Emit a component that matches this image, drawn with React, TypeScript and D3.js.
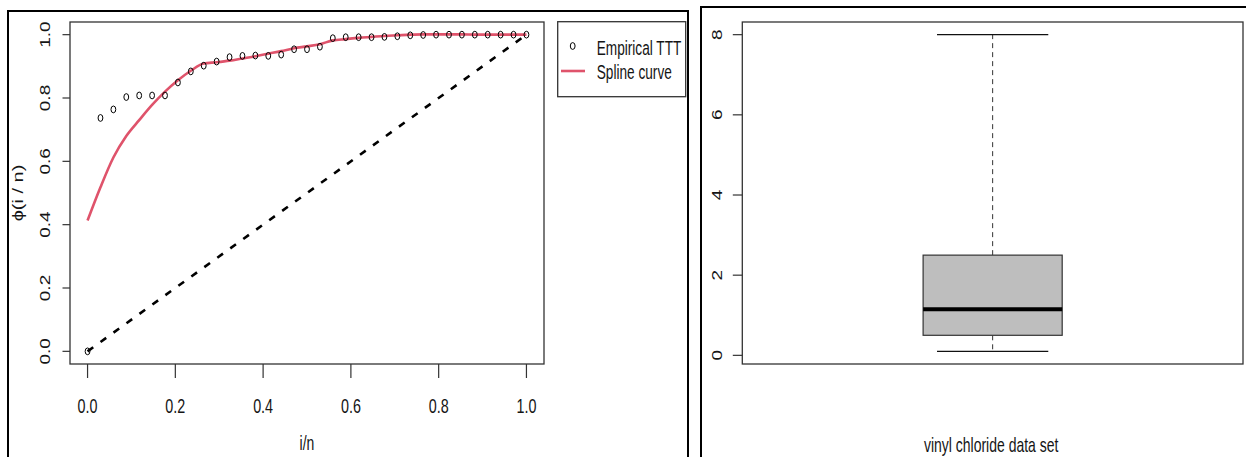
import React from "react";
import * as d3 from "d3";

// ---------- data ----------
const n = 34;
const xTicks = [0, 0.2, 0.4, 0.6, 0.8, 1.0];
const yTicks = [0, 0.2, 0.4, 0.6, 0.8, 1.0];
const empiricalTTT = [
  0, 0.737, 0.764, 0.803, 0.808, 0.808, 0.808, 0.849, 0.884, 0.902, 0.915,
  0.929, 0.933, 0.934, 0.933, 0.937, 0.954, 0.954, 0.962, 0.989, 0.992, 0.992,
  0.992, 0.993, 0.995, 0.998, 0.999, 1, 1, 1, 1, 1, 1, 1, 1,
];
const splineCurve = [
  0.413, 0.518, 0.612, 0.68, 0.73, 0.778, 0.82, 0.856, 0.886, 0.909, 0.913,
  0.918, 0.925, 0.932, 0.94, 0.948, 0.957, 0.963, 0.97, 0.982, 0.986, 0.99,
  0.993, 0.996, 0.998, 1.0, 1.001, 1.001, 1.001, 1.001, 1.0, 1.0, 1.0, 1.0, 1.0,
];
const diagonal = [0, 1];
const legendLabels = ["Empirical TTT", "Spline curve"];
const xLabel = "i/n";
const yLabel = "\u03d5(i / n)";

const boxTicks = [0, 2, 4, 6, 8];
const boxStatNames = ["min", "q1", "median", "q3", "max"];
const boxStatValues = [0.1, 0.5, 1.15, 2.5, 8.0];
const boxTitle = "vinyl chloride data set";

// ---------- layout ----------
const W = 1246;
const H = 457;
const L = { left: 70, right: 544, top: 22, bottom: 364 };
const R = { left: 742.3, right: 1243, top: 22, bottom: 364 };
const SQ = 0.7; // horizontal squash of text
const RED = "#DF536B";
const FONT = "'Liberation Sans', Arial, sans-serif";

function SText({ x, y, children, size = 20, anchor = "middle", rotate = 0, sx = SQ, baseline = "auto" }: any) {
  const tr = rotate
    ? `translate(${x},${y}) scale(${sx},1) rotate(${rotate})`
    : `translate(${x},${y}) scale(${sx},1)`;
  return (
    <text
      transform={tr}
      fontSize={size}
      textAnchor={anchor}
      dominantBaseline={baseline}
      fontFamily={FONT}
      fill="#151515"
    >
      {children}
    </text>
  );
}

export default function App() {
  const ix = d3.range(n + 1).map((i) => i / n);
  const x = d3.scaleLinear().domain([-0.04, 1.04]).range([L.left, L.right]);
  const y = d3.scaleLinear().domain([-0.04, 1.04]).range([L.bottom, L.top]);

  const lineGen = d3
    .line<number>()
    .x((_, i) => x(ix[i]))
    .y((d) => y(d))
    .curve(d3.curveMonotoneX);
  const diagGen = d3
    .line<number>()
    .x((d) => x(d))
    .y((d) => y(d));

  const stat = (k: string) => boxStatValues[boxStatNames.indexOf(k)];
  const yb = d3
    .scaleLinear()
    .domain([
      stat("min") - 0.04 * (stat("max") - stat("min")),
      stat("max") + 0.04 * (stat("max") - stat("min")),
    ])
    .range([R.bottom, R.top]);
  const xb = d3.scaleLinear().domain([0.46, 1.54]).range([R.left, R.right]);
  const cx = xb(1);
  const bx0 = xb(1 - 0.15);
  const bx1 = xb(1 + 0.15);
  const cx0 = xb(1 - 0.12);
  const cx1 = xb(1 + 0.12);

  return (
    <svg
      width={W}
      height={H}
      style={{ position: "fixed", left: 0, top: 0, background: "#fff" }}
    >
      <rect x={0} y={0} width={W} height={H} fill="#fff" />
      {/* outer frames */}
      <rect x={8} y={11} width={680} height={520} fill="none" stroke="#000" strokeWidth={2} />
      <rect x={701} y={7} width={620} height={520} fill="none" stroke="#000" strokeWidth={2} />

      {/* ---------- left panel ---------- */}
      <path d={diagGen(diagonal) || ""} fill="none" stroke="#000" strokeWidth={2.6} strokeDasharray="7,9" />
      <path d={lineGen(splineCurve) || ""} fill="none" stroke={RED} strokeWidth={2.6} />
      {empiricalTTT.map((v, i) => (
        <ellipse key={i} cx={x(ix[i])} cy={y(v)} rx={2.4} ry={3.4} fill="none" stroke="#000" strokeWidth={1} />
      ))}
      <rect
        x={L.left}
        y={L.top}
        width={L.right - L.left}
        height={L.bottom - L.top}
        fill="none"
        stroke="#333"
        strokeWidth={1.3}
      />
      {xTicks.map((t) => (
        <g key={"xt" + t}>
          <line x1={x(t)} x2={x(t)} y1={L.bottom} y2={L.bottom + 14} stroke="#333" strokeWidth={1.2} />
          <SText x={x(t)} y={412.7} size={20.5}>{t.toFixed(1)}</SText>
        </g>
      ))}
      {yTicks.map((t) => (
        <g key={"yt" + t}>
          <line x1={L.left} x2={L.left - 7.5} y1={y(t)} y2={y(t)} stroke="#333" strokeWidth={1.2} />
          <SText x={45.7} y={y(t)} size={19} sx={0.78} rotate={-90} baseline="central">
            {t.toFixed(1)}
          </SText>
        </g>
      ))}
      <SText x={(L.left + L.right) / 2} y={450}>{xLabel}</SText>
      <SText x={18} y={(L.top + L.bottom) / 2} rotate={-90} baseline="central">
        {yLabel}
      </SText>

      {/* legend */}
      <rect x={557.7} y={21.7} width={128} height={75} fill="#fff" stroke="#333" strokeWidth={1.3} />
      <ellipse cx={572.7} cy={46} rx={2.4} ry={3.4} fill="none" stroke="#000" strokeWidth={1} />
      <line x1={561} x2={585} y1={71} y2={71} stroke={RED} strokeWidth={2.6} />
      <SText x={596.7} y={48.5} size={19.5} anchor="start" baseline="central">{legendLabels[0]}</SText>
      <SText x={596.7} y={72.5} size={19.5} anchor="start" baseline="central">{legendLabels[1]}</SText>

      {/* ---------- right panel ---------- */}
      <line x1={cx} x2={cx} y1={yb(stat("q3"))} y2={yb(stat("max"))} stroke="#333" strokeWidth={1} strokeDasharray="5,4" />
      <line x1={cx} x2={cx} y1={yb(stat("q1"))} y2={yb(stat("min"))} stroke="#333" strokeWidth={1} strokeDasharray="5,4" />
      <line x1={cx0} x2={cx1} y1={yb(stat("max"))} y2={yb(stat("max"))} stroke="#111" strokeWidth={1.3} />
      <line x1={cx0} x2={cx1} y1={yb(stat("min"))} y2={yb(stat("min"))} stroke="#111" strokeWidth={1.3} />
      <rect
        x={bx0}
        y={yb(stat("q3"))}
        width={bx1 - bx0}
        height={yb(stat("q1")) - yb(stat("q3"))}
        fill="#BEBEBE"
        stroke="#333"
        strokeWidth={1.2}
      />
      <line x1={bx0} x2={bx1} y1={yb(stat("median"))} y2={yb(stat("median"))} stroke="#000" strokeWidth={4} />
      <rect
        x={R.left}
        y={R.top}
        width={R.right - R.left}
        height={R.bottom - R.top}
        fill="none"
        stroke="#333"
        strokeWidth={1.3}
      />
      {boxTicks.map((t) => (
        <g key={"bt" + t}>
          <line x1={R.left} x2={R.left - 9.5} y1={yb(t)} y2={yb(t)} stroke="#333" strokeWidth={1.2} />
          <SText x={717} y={yb(t)} size={19} sx={0.78} rotate={-90} baseline="central">
            {String(t)}
          </SText>
        </g>
      ))}
      <SText x={(R.left + R.right) / 2 - 1.5} y={451.5}>{boxTitle}</SText>
    </svg>
  );
}
